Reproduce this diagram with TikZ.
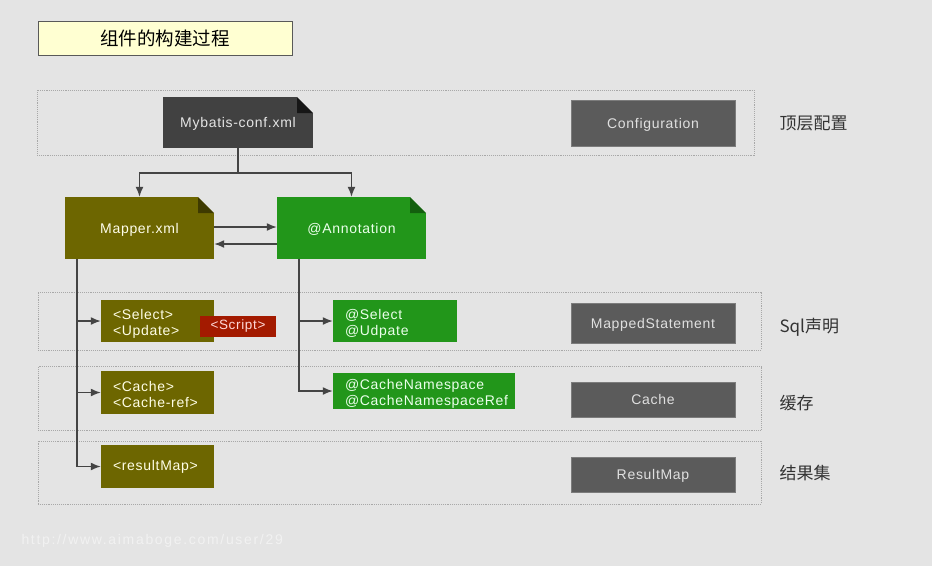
\documentclass[tikz,border=0pt]{standalone}
\usepackage{fontspec}
\setmainfont{Liberation Sans}[LetterSpace=5]
\newfontfamily\cjk{Noto Sans CJK SC}
\newfontfamily\wide{Liberation Sans}[LetterSpace=12]
\usepackage{tikz}
\usetikzlibrary{arrows,arrows.meta,shapes,calc}
\usetikzlibrary{positioning}
\definecolor{bgcol}{HTML}{E4E4E4}
\definecolor{linecol}{HTML}{444444}
\definecolor{dotcol}{HTML}{A8A8A8}
\definecolor{titlecol}{HTML}{FFFFD2}
\definecolor{darkdoc}{HTML}{414141}
\definecolor{darkfold}{HTML}{161616}
\definecolor{olive}{HTML}{6D6600}
\definecolor{olivefold}{HTML}{3E3A00}
\definecolor{leaf}{HTML}{22961A}
\definecolor{leaffold}{HTML}{135F0E}
\definecolor{brick}{HTML}{A31A00}
\definecolor{slate}{HTML}{5B5B5B}
\newcommand\lift{\rule{0pt}{15pt}}
\tikzstyle{arrow}=[draw,-{Latex[length=10pt,width=8pt]},line width=1.5pt,color=linecol]
\tikzstyle{band}=[rectangle, draw=dotcol, densely dotted, line width=0.9pt]
\tikzstyle{doc}=[rectangle, inner sep=0pt, text height=13pt, text depth=3pt,
  font=\fontsize{14}{16}\selectfont]
\tikzstyle{item}=[rectangle, inner xsep=12pt, inner ysep=1pt, align=left,
  font=\fontsize{14}{16}\selectfont]
\tikzstyle{model}=[rectangle, fill=slate, draw=slate!80!white, line width=0.6pt,
  minimum width=164pt, text=white!88!black, text height=13pt, text depth=3pt,
  font=\fontsize{14}{16}\selectfont]
\tikzstyle{layer}=[anchor=west, text=black!80, font=\cjk\fontsize{17}{20}\selectfont]
\tikzset{fold/.style={path picture={
  \fill[bgcol] (path picture bounding box.north east) -- ++(-16pt,0)
    -- ++(16pt,-16pt) -- cycle;
  \fill[#1] ($(path picture bounding box.north east)+(-16pt,0)$)
    -- ++(0,-16pt) -- ++(16pt,0) -- cycle;}}}

\begin{document}
\begin{tikzpicture}[x=1pt,y=-1pt]
  \fill[bgcol] (0,0) rectangle (932,566);
  \useasboundingbox (0,0) rectangle (932,566);

  % title
  \node [rectangle, draw=black!65, line width=1pt, fill=titlecol,
    minimum width=254pt, minimum height=34pt,
    font=\cjk\fontsize{18.5}{20}\selectfont] (title) at (165,38.5) {组件的构建过程};

  % layer bands
  \node [band, minimum width=717pt, minimum height=65pt] (top) at (395.5,122.5) {};
  \node [band, minimum width=723pt, minimum height=58pt] (sql) at (399.5,321) {};
  \node [band, minimum width=723pt, minimum height=64pt] (cache) at (399.5,398.5) {};
  \node [band, minimum width=723pt, minimum height=63pt] (result) at (399.5,472.5) {};

  % sources
  \node [doc, fill=darkdoc, fold=darkfold, text=white!90!black,
    minimum width=150pt, minimum height=51pt] (conf) at (238,122.5) {Mybatis-conf.xml};
  \node [doc, fill=olive, fold=olivefold, text=white!92!yellow,
    minimum width=149pt, minimum height=62pt] (mapper) at (139.5,228) {Mapper.xml};
  \node [doc, fill=leaf, fold=leaffold, text=white!92!green,
    minimum width=149pt, minimum height=62pt] (annot) at (351.5,228) {@Annotation};

  % xml elements
  \node [item, fill=olive, text=white!90!yellow, text width=89pt,
    minimum height=42pt] (select) at (157.5,321) {\lift<Select>\\<Update>};
  \node [rectangle, fill=brick, text=white!85!red, minimum width=76pt,
    minimum height=21pt, inner sep=0pt,
    font=\fontsize{13.5}{15}\selectfont] (script) at (238,326.5) {<Script>};
  \node [item, fill=olive, text=white!90!yellow, text width=89pt,
    minimum height=43pt] (cachexml) at (157.5,392.5) {\lift<Cache>\\<Cache-ref>};
  \node [item, fill=olive, text=white!90!yellow, text width=89pt,
    minimum height=43pt] (resmap) at (157.5,466.5) {<resultMap>};

  % annotations
  \node [item, fill=leaf, text=white!92!green, text width=100pt,
    minimum height=42pt] (atsel) at (395,321) {\lift@Select\\@Udpate};
  \node [item, fill=leaf, text=white!92!green, text width=158pt,
    minimum height=34pt] (atcache) at (424,391) {\lift@CacheNamespace\\@CacheNamespaceRef};

  % models
  \node [model, minimum height=46pt] (cfg) at (653,123) {Configuration};
  \node [model, minimum height=40pt] (ms) at (653,323) {MappedStatement};
  \node [model, minimum height=35pt] (cch) at (653,399.5) {Cache};
  \node [model, minimum height=35pt] (rm) at (653,474.5) {ResultMap};

  \node [layer] (l1) at (776,123) {顶层配置};
  \node [layer] (l2) at (776,327) {Sql声明};
  \node [layer] (l3) at (776,403) {缓存};
  \node [layer] (l4) at (776,473) {结果集};

  % connectors
  \coordinate (split) at (238,173);
  \draw [line width=1.5pt,linecol] (conf.south) -- (split);
  \draw [arrow] (split) -| (mapper.north);
  \draw [arrow] (split) -| (annot.north);
  \draw [arrow] ([yshift=1pt]mapper.east) -- ([yshift=1pt]annot.west);
  \draw [arrow] ([yshift=-16pt]annot.west) -- ([yshift=-16pt]mapper.east);

  \coordinate (trunkl) at ([xshift=12pt]mapper.south west);
  \draw [arrow] (trunkl) |- (select.west);
  \draw [arrow] (trunkl) |- (cachexml.west);
  \draw [arrow] (trunkl) |- (resmap.west);
  \coordinate (trunkr) at ([xshift=22pt]annot.south west);
  \draw [arrow] (trunkr) |- (atsel.west);
  \draw [arrow] (trunkr) |- (atcache.west);

  \node [anchor=west, text=white, opacity=0.5,
    font=\wide\fontsize{14}{16}\selectfont] (mark) at (18,541) {http://www.aimaboge.com/user/29};
\end{tikzpicture}
\end{document}
